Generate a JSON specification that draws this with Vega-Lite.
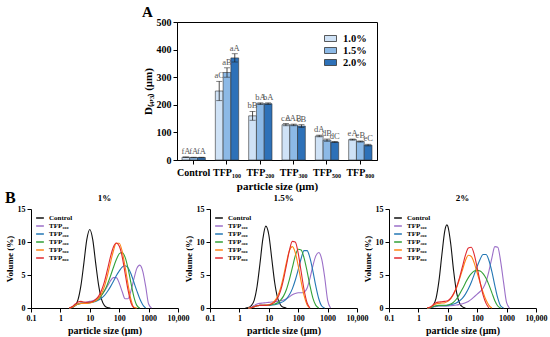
{
"$schema": "https://vega.github.io/schema/vega-lite/v6.json",
"background": "white",
"padding": {"left": 5, "right": 3, "top": 4, "bottom": 2},
"config": {
  "font": "Liberation Serif",
  "view": {"stroke": null},
  "axis": {"labelFont": "Liberation Serif", "titleFont": "Liberation Serif", "labelFontWeight": "bold", "titleFontWeight": "bold", "labelColor": "black", "titleColor": "black", "domainColor": "black", "tickColor": "black", "grid": false, "tickSize": 4, "labelPadding": 2, "titlePadding": 3},
  "title": {"font": "Liberation Serif", "fontWeight": "bold", "color": "black"},
  "legend": {"labelFont": "Liberation Serif", "labelFontWeight": "bold", "labelColor": "black"}
},
"datasets": {
"d": [
{"p":"1%","s":"Control","x":2,"y":0},{"p":"1%","s":"Control","x":2.5,"y":0.08},{"p":"1%","s":"Control","x":3.2,"y":0.37},{"p":"1%","s":"Control","x":4,"y":1.3},{"p":"1%","s":"Control","x":5,"y":3.42},{"p":"1%","s":"Control","x":6.3,"y":6.84},{"p":"1%","s":"Control","x":7.9,"y":10.36},{"p":"1%","s":"Control","x":10,"y":11.9},{"p":"1%","s":"Control","x":12.6,"y":10.36},{"p":"1%","s":"Control","x":15.8,"y":6.84},{"p":"1%","s":"Control","x":20,"y":3.42},{"p":"1%","s":"Control","x":25.1,"y":1.3},{"p":"1%","s":"Control","x":31.6,"y":0.37},{"p":"1%","s":"Control","x":39.8,"y":0.08},{"p":"1%","s":"Control","x":50.1,"y":0},
{"p":"1%","s":"TFP₁₀₀","x":2,"y":0},{"p":"1%","s":"TFP₁₀₀","x":2.5,"y":0.1},{"p":"1%","s":"TFP₁₀₀","x":3.2,"y":0.4},{"p":"1%","s":"TFP₁₀₀","x":4,"y":0.6},{"p":"1%","s":"TFP₁₀₀","x":5,"y":0.75},{"p":"1%","s":"TFP₁₀₀","x":6.3,"y":0.8},{"p":"1%","s":"TFP₁₀₀","x":7.9,"y":0.9},{"p":"1%","s":"TFP₁₀₀","x":10,"y":1.0},{"p":"1%","s":"TFP₁₀₀","x":12.6,"y":1.1},{"p":"1%","s":"TFP₁₀₀","x":15.8,"y":1.3},{"p":"1%","s":"TFP₁₀₀","x":20,"y":1.6},{"p":"1%","s":"TFP₁₀₀","x":25.1,"y":2.0},{"p":"1%","s":"TFP₁₀₀","x":31.6,"y":2.6},{"p":"1%","s":"TFP₁₀₀","x":39.8,"y":3.3},{"p":"1%","s":"TFP₁₀₀","x":50.1,"y":4.1},{"p":"1%","s":"TFP₁₀₀","x":63.1,"y":4.6},{"p":"1%","s":"TFP₁₀₀","x":79.4,"y":4.6},{"p":"1%","s":"TFP₁₀₀","x":100,"y":3.8},{"p":"1%","s":"TFP₁₀₀","x":126,"y":2.5},{"p":"1%","s":"TFP₁₀₀","x":158,"y":1.4},{"p":"1%","s":"TFP₁₀₀","x":200,"y":1.4},{"p":"1%","s":"TFP₁₀₀","x":251,"y":2.6},{"p":"1%","s":"TFP₁₀₀","x":316,"y":4.4},{"p":"1%","s":"TFP₁₀₀","x":398,"y":6.0},{"p":"1%","s":"TFP₁₀₀","x":501,"y":6.5},{"p":"1%","s":"TFP₁₀₀","x":631,"y":5.6},{"p":"1%","s":"TFP₁₀₀","x":794,"y":3.3},{"p":"1%","s":"TFP₁₀₀","x":1000,"y":0.6},{"p":"1%","s":"TFP₁₀₀","x":1259,"y":0},
{"p":"1%","s":"TFP₂₀₀","x":2,"y":0},{"p":"1%","s":"TFP₂₀₀","x":2.5,"y":0.1},{"p":"1%","s":"TFP₂₀₀","x":3.2,"y":0.4},{"p":"1%","s":"TFP₂₀₀","x":4,"y":0.6},{"p":"1%","s":"TFP₂₀₀","x":5,"y":0.7},{"p":"1%","s":"TFP₂₀₀","x":6.3,"y":0.7},{"p":"1%","s":"TFP₂₀₀","x":7.9,"y":0.75},{"p":"1%","s":"TFP₂₀₀","x":10,"y":0.8},{"p":"1%","s":"TFP₂₀₀","x":12.6,"y":0.9},{"p":"1%","s":"TFP₂₀₀","x":15.8,"y":1.0},{"p":"1%","s":"TFP₂₀₀","x":20,"y":1.2},{"p":"1%","s":"TFP₂₀₀","x":25.1,"y":1.5},{"p":"1%","s":"TFP₂₀₀","x":31.6,"y":1.9},{"p":"1%","s":"TFP₂₀₀","x":39.8,"y":2.5},{"p":"1%","s":"TFP₂₀₀","x":50.1,"y":3.2},{"p":"1%","s":"TFP₂₀₀","x":63.1,"y":4.0},{"p":"1%","s":"TFP₂₀₀","x":79.4,"y":4.9},{"p":"1%","s":"TFP₂₀₀","x":100,"y":5.6},{"p":"1%","s":"TFP₂₀₀","x":126,"y":6.2},{"p":"1%","s":"TFP₂₀₀","x":158,"y":6.4},{"p":"1%","s":"TFP₂₀₀","x":200,"y":6.1},{"p":"1%","s":"TFP₂₀₀","x":251,"y":5.2},{"p":"1%","s":"TFP₂₀₀","x":316,"y":3.9},{"p":"1%","s":"TFP₂₀₀","x":398,"y":2.6},{"p":"1%","s":"TFP₂₀₀","x":501,"y":1.4},{"p":"1%","s":"TFP₂₀₀","x":631,"y":0.5},{"p":"1%","s":"TFP₂₀₀","x":794,"y":0},
{"p":"1%","s":"TFP₃₀₀","x":2,"y":0},{"p":"1%","s":"TFP₃₀₀","x":2.5,"y":0.1},{"p":"1%","s":"TFP₃₀₀","x":3.2,"y":0.4},{"p":"1%","s":"TFP₃₀₀","x":4,"y":0.6},{"p":"1%","s":"TFP₃₀₀","x":5,"y":0.7},{"p":"1%","s":"TFP₃₀₀","x":6.3,"y":0.7},{"p":"1%","s":"TFP₃₀₀","x":7.9,"y":0.75},{"p":"1%","s":"TFP₃₀₀","x":10,"y":0.8},{"p":"1%","s":"TFP₃₀₀","x":12.6,"y":0.9},{"p":"1%","s":"TFP₃₀₀","x":15.8,"y":1.1},{"p":"1%","s":"TFP₃₀₀","x":20,"y":1.4},{"p":"1%","s":"TFP₃₀₀","x":25.1,"y":1.9},{"p":"1%","s":"TFP₃₀₀","x":31.6,"y":2.6},{"p":"1%","s":"TFP₃₀₀","x":39.8,"y":3.6},{"p":"1%","s":"TFP₃₀₀","x":50.1,"y":4.8},{"p":"1%","s":"TFP₃₀₀","x":63.1,"y":6.1},{"p":"1%","s":"TFP₃₀₀","x":79.4,"y":7.3},{"p":"1%","s":"TFP₃₀₀","x":100,"y":8.2},{"p":"1%","s":"TFP₃₀₀","x":126,"y":8.4},{"p":"1%","s":"TFP₃₀₀","x":158,"y":7.7},{"p":"1%","s":"TFP₃₀₀","x":200,"y":6.0},{"p":"1%","s":"TFP₃₀₀","x":251,"y":3.8},{"p":"1%","s":"TFP₃₀₀","x":316,"y":1.7},{"p":"1%","s":"TFP₃₀₀","x":398,"y":0.4},{"p":"1%","s":"TFP₃₀₀","x":501,"y":0},
{"p":"1%","s":"TFP₅₀₀","x":2,"y":0},{"p":"1%","s":"TFP₅₀₀","x":2.5,"y":0.1},{"p":"1%","s":"TFP₅₀₀","x":3.2,"y":0.4},{"p":"1%","s":"TFP₅₀₀","x":4,"y":0.6},{"p":"1%","s":"TFP₅₀₀","x":5,"y":0.7},{"p":"1%","s":"TFP₅₀₀","x":6.3,"y":0.7},{"p":"1%","s":"TFP₅₀₀","x":7.9,"y":0.7},{"p":"1%","s":"TFP₅₀₀","x":10,"y":0.75},{"p":"1%","s":"TFP₅₀₀","x":12.6,"y":0.9},{"p":"1%","s":"TFP₅₀₀","x":15.8,"y":1.1},{"p":"1%","s":"TFP₅₀₀","x":20,"y":1.5},{"p":"1%","s":"TFP₅₀₀","x":25.1,"y":2.2},{"p":"1%","s":"TFP₅₀₀","x":31.6,"y":3.3},{"p":"1%","s":"TFP₅₀₀","x":39.8,"y":4.9},{"p":"1%","s":"TFP₅₀₀","x":50.1,"y":6.8},{"p":"1%","s":"TFP₅₀₀","x":63.1,"y":8.6},{"p":"1%","s":"TFP₅₀₀","x":79.4,"y":9.8},{"p":"1%","s":"TFP₅₀₀","x":100,"y":9.8},{"p":"1%","s":"TFP₅₀₀","x":126,"y":8.6},{"p":"1%","s":"TFP₅₀₀","x":158,"y":6.3},{"p":"1%","s":"TFP₅₀₀","x":200,"y":3.6},{"p":"1%","s":"TFP₅₀₀","x":251,"y":1.3},{"p":"1%","s":"TFP₅₀₀","x":316,"y":0.1},{"p":"1%","s":"TFP₅₀₀","x":398,"y":0},
{"p":"1%","s":"TFP₈₀₀","x":2,"y":0},{"p":"1%","s":"TFP₈₀₀","x":2.5,"y":0.2},{"p":"1%","s":"TFP₈₀₀","x":3.2,"y":0.6},{"p":"1%","s":"TFP₈₀₀","x":4,"y":0.9},{"p":"1%","s":"TFP₈₀₀","x":5,"y":1.0},{"p":"1%","s":"TFP₈₀₀","x":6.3,"y":0.9},{"p":"1%","s":"TFP₈₀₀","x":7.9,"y":0.85},{"p":"1%","s":"TFP₈₀₀","x":10,"y":0.9},{"p":"1%","s":"TFP₈₀₀","x":12.6,"y":1.0},{"p":"1%","s":"TFP₈₀₀","x":15.8,"y":1.3},{"p":"1%","s":"TFP₈₀₀","x":20,"y":1.8},{"p":"1%","s":"TFP₈₀₀","x":25.1,"y":2.7},{"p":"1%","s":"TFP₈₀₀","x":31.6,"y":4.0},{"p":"1%","s":"TFP₈₀₀","x":39.8,"y":5.8},{"p":"1%","s":"TFP₈₀₀","x":50.1,"y":7.7},{"p":"1%","s":"TFP₈₀₀","x":63.1,"y":9.2},{"p":"1%","s":"TFP₈₀₀","x":79.4,"y":9.85},{"p":"1%","s":"TFP₈₀₀","x":100,"y":9.4},{"p":"1%","s":"TFP₈₀₀","x":126,"y":7.8},{"p":"1%","s":"TFP₈₀₀","x":158,"y":5.3},{"p":"1%","s":"TFP₈₀₀","x":200,"y":2.7},{"p":"1%","s":"TFP₈₀₀","x":251,"y":0.8},{"p":"1%","s":"TFP₈₀₀","x":316,"y":0},

{"p":"1.5%","s":"Control","x":1.6,"y":0},{"p":"1.5%","s":"Control","x":2,"y":0.07},{"p":"1.5%","s":"Control","x":2.5,"y":0.34},{"p":"1.5%","s":"Control","x":3.2,"y":1.2},{"p":"1.5%","s":"Control","x":4,"y":3.3},{"p":"1.5%","s":"Control","x":5,"y":6.7},{"p":"1.5%","s":"Control","x":6.3,"y":10.5},{"p":"1.5%","s":"Control","x":7.9,"y":12.4},{"p":"1.5%","s":"Control","x":10,"y":11.1},{"p":"1.5%","s":"Control","x":12.6,"y":7.5},{"p":"1.5%","s":"Control","x":15.8,"y":3.9},{"p":"1.5%","s":"Control","x":20,"y":1.5},{"p":"1.5%","s":"Control","x":25.1,"y":0.45},{"p":"1.5%","s":"Control","x":31.6,"y":0.1},{"p":"1.5%","s":"Control","x":39.8,"y":0},
{"p":"1.5%","s":"TFP₁₀₀","x":2,"y":0},{"p":"1.5%","s":"TFP₁₀₀","x":2.5,"y":0.1},{"p":"1.5%","s":"TFP₁₀₀","x":3.2,"y":0.4},{"p":"1.5%","s":"TFP₁₀₀","x":4,"y":0.6},{"p":"1.5%","s":"TFP₁₀₀","x":5,"y":0.7},{"p":"1.5%","s":"TFP₁₀₀","x":6.3,"y":0.75},{"p":"1.5%","s":"TFP₁₀₀","x":7.9,"y":0.8},{"p":"1.5%","s":"TFP₁₀₀","x":10,"y":0.85},{"p":"1.5%","s":"TFP₁₀₀","x":12.6,"y":0.9},{"p":"1.5%","s":"TFP₁₀₀","x":15.8,"y":0.95},{"p":"1.5%","s":"TFP₁₀₀","x":20,"y":1.0},{"p":"1.5%","s":"TFP₁₀₀","x":25.1,"y":1.1},{"p":"1.5%","s":"TFP₁₀₀","x":31.6,"y":1.2},{"p":"1.5%","s":"TFP₁₀₀","x":39.8,"y":1.4},{"p":"1.5%","s":"TFP₁₀₀","x":50.1,"y":1.7},{"p":"1.5%","s":"TFP₁₀₀","x":63.1,"y":2.0},{"p":"1.5%","s":"TFP₁₀₀","x":79.4,"y":2.2},{"p":"1.5%","s":"TFP₁₀₀","x":100,"y":2.3},{"p":"1.5%","s":"TFP₁₀₀","x":126,"y":2.3},{"p":"1.5%","s":"TFP₁₀₀","x":158,"y":2.4},{"p":"1.5%","s":"TFP₁₀₀","x":200,"y":3.0},{"p":"1.5%","s":"TFP₁₀₀","x":251,"y":4.5},{"p":"1.5%","s":"TFP₁₀₀","x":316,"y":6.4},{"p":"1.5%","s":"TFP₁₀₀","x":398,"y":7.9},{"p":"1.5%","s":"TFP₁₀₀","x":501,"y":8.4},{"p":"1.5%","s":"TFP₁₀₀","x":631,"y":7.4},{"p":"1.5%","s":"TFP₁₀₀","x":794,"y":4.7},{"p":"1.5%","s":"TFP₁₀₀","x":1000,"y":1.2},{"p":"1.5%","s":"TFP₁₀₀","x":1259,"y":0},
{"p":"1.5%","s":"TFP₂₀₀","x":2,"y":0},{"p":"1.5%","s":"TFP₂₀₀","x":2.5,"y":0.05},{"p":"1.5%","s":"TFP₂₀₀","x":3.2,"y":0.2},{"p":"1.5%","s":"TFP₂₀₀","x":4,"y":0.35},{"p":"1.5%","s":"TFP₂₀₀","x":5,"y":0.4},{"p":"1.5%","s":"TFP₂₀₀","x":6.3,"y":0.4},{"p":"1.5%","s":"TFP₂₀₀","x":7.9,"y":0.4},{"p":"1.5%","s":"TFP₂₀₀","x":10,"y":0.4},{"p":"1.5%","s":"TFP₂₀₀","x":12.6,"y":0.45},{"p":"1.5%","s":"TFP₂₀₀","x":15.8,"y":0.5},{"p":"1.5%","s":"TFP₂₀₀","x":20,"y":0.6},{"p":"1.5%","s":"TFP₂₀₀","x":25.1,"y":0.8},{"p":"1.5%","s":"TFP₂₀₀","x":31.6,"y":1.0},{"p":"1.5%","s":"TFP₂₀₀","x":39.8,"y":1.4},{"p":"1.5%","s":"TFP₂₀₀","x":50.1,"y":2.0},{"p":"1.5%","s":"TFP₂₀₀","x":63.1,"y":2.9},{"p":"1.5%","s":"TFP₂₀₀","x":79.4,"y":4.2},{"p":"1.5%","s":"TFP₂₀₀","x":100,"y":5.8},{"p":"1.5%","s":"TFP₂₀₀","x":126,"y":7.5},{"p":"1.5%","s":"TFP₂₀₀","x":158,"y":8.7},{"p":"1.5%","s":"TFP₂₀₀","x":200,"y":8.7},{"p":"1.5%","s":"TFP₂₀₀","x":251,"y":7.6},{"p":"1.5%","s":"TFP₂₀₀","x":316,"y":5.6},{"p":"1.5%","s":"TFP₂₀₀","x":398,"y":3.3},{"p":"1.5%","s":"TFP₂₀₀","x":501,"y":1.4},{"p":"1.5%","s":"TFP₂₀₀","x":631,"y":0.3},{"p":"1.5%","s":"TFP₂₀₀","x":794,"y":0},
{"p":"1.5%","s":"TFP₃₀₀","x":2,"y":0},{"p":"1.5%","s":"TFP₃₀₀","x":2.5,"y":0.05},{"p":"1.5%","s":"TFP₃₀₀","x":3.2,"y":0.2},{"p":"1.5%","s":"TFP₃₀₀","x":4,"y":0.35},{"p":"1.5%","s":"TFP₃₀₀","x":5,"y":0.4},{"p":"1.5%","s":"TFP₃₀₀","x":6.3,"y":0.4},{"p":"1.5%","s":"TFP₃₀₀","x":7.9,"y":0.4},{"p":"1.5%","s":"TFP₃₀₀","x":10,"y":0.45},{"p":"1.5%","s":"TFP₃₀₀","x":12.6,"y":0.5},{"p":"1.5%","s":"TFP₃₀₀","x":15.8,"y":0.6},{"p":"1.5%","s":"TFP₃₀₀","x":20,"y":0.8},{"p":"1.5%","s":"TFP₃₀₀","x":25.1,"y":1.2},{"p":"1.5%","s":"TFP₃₀₀","x":31.6,"y":1.8},{"p":"1.5%","s":"TFP₃₀₀","x":39.8,"y":2.8},{"p":"1.5%","s":"TFP₃₀₀","x":50.1,"y":4.3},{"p":"1.5%","s":"TFP₃₀₀","x":63.1,"y":6.1},{"p":"1.5%","s":"TFP₃₀₀","x":79.4,"y":7.9},{"p":"1.5%","s":"TFP₃₀₀","x":100,"y":8.9},{"p":"1.5%","s":"TFP₃₀₀","x":126,"y":8.8},{"p":"1.5%","s":"TFP₃₀₀","x":158,"y":7.6},{"p":"1.5%","s":"TFP₃₀₀","x":200,"y":5.6},{"p":"1.5%","s":"TFP₃₀₀","x":251,"y":3.4},{"p":"1.5%","s":"TFP₃₀₀","x":316,"y":1.5},{"p":"1.5%","s":"TFP₃₀₀","x":398,"y":0.4},{"p":"1.5%","s":"TFP₃₀₀","x":501,"y":0},
{"p":"1.5%","s":"TFP₅₀₀","x":2,"y":0},{"p":"1.5%","s":"TFP₅₀₀","x":2.5,"y":0.05},{"p":"1.5%","s":"TFP₅₀₀","x":3.2,"y":0.2},{"p":"1.5%","s":"TFP₅₀₀","x":4,"y":0.35},{"p":"1.5%","s":"TFP₅₀₀","x":5,"y":0.4},{"p":"1.5%","s":"TFP₅₀₀","x":6.3,"y":0.4},{"p":"1.5%","s":"TFP₅₀₀","x":7.9,"y":0.45},{"p":"1.5%","s":"TFP₅₀₀","x":10,"y":0.5},{"p":"1.5%","s":"TFP₅₀₀","x":12.6,"y":0.7},{"p":"1.5%","s":"TFP₅₀₀","x":15.8,"y":1.1},{"p":"1.5%","s":"TFP₅₀₀","x":20,"y":1.8},{"p":"1.5%","s":"TFP₅₀₀","x":25.1,"y":3.0},{"p":"1.5%","s":"TFP₅₀₀","x":31.6,"y":4.8},{"p":"1.5%","s":"TFP₅₀₀","x":39.8,"y":6.9},{"p":"1.5%","s":"TFP₅₀₀","x":50.1,"y":8.7},{"p":"1.5%","s":"TFP₅₀₀","x":63.1,"y":9.3},{"p":"1.5%","s":"TFP₅₀₀","x":79.4,"y":8.4},{"p":"1.5%","s":"TFP₅₀₀","x":100,"y":6.4},{"p":"1.5%","s":"TFP₅₀₀","x":126,"y":4.0},{"p":"1.5%","s":"TFP₅₀₀","x":158,"y":1.9},{"p":"1.5%","s":"TFP₅₀₀","x":200,"y":0.5},{"p":"1.5%","s":"TFP₅₀₀","x":251,"y":0},
{"p":"1.5%","s":"TFP₈₀₀","x":2,"y":0},{"p":"1.5%","s":"TFP₈₀₀","x":2.5,"y":0.05},{"p":"1.5%","s":"TFP₈₀₀","x":3.2,"y":0.2},{"p":"1.5%","s":"TFP₈₀₀","x":4,"y":0.35},{"p":"1.5%","s":"TFP₈₀₀","x":5,"y":0.4},{"p":"1.5%","s":"TFP₈₀₀","x":6.3,"y":0.4},{"p":"1.5%","s":"TFP₈₀₀","x":7.9,"y":0.4},{"p":"1.5%","s":"TFP₈₀₀","x":10,"y":0.45},{"p":"1.5%","s":"TFP₈₀₀","x":12.6,"y":0.6},{"p":"1.5%","s":"TFP₈₀₀","x":15.8,"y":0.9},{"p":"1.5%","s":"TFP₈₀₀","x":20,"y":1.5},{"p":"1.5%","s":"TFP₈₀₀","x":25.1,"y":2.6},{"p":"1.5%","s":"TFP₈₀₀","x":31.6,"y":4.3},{"p":"1.5%","s":"TFP₈₀₀","x":39.8,"y":6.5},{"p":"1.5%","s":"TFP₈₀₀","x":50.1,"y":8.7},{"p":"1.5%","s":"TFP₈₀₀","x":63.1,"y":10.1},{"p":"1.5%","s":"TFP₈₀₀","x":79.4,"y":10.0},{"p":"1.5%","s":"TFP₈₀₀","x":100,"y":8.3},{"p":"1.5%","s":"TFP₈₀₀","x":126,"y":5.5},{"p":"1.5%","s":"TFP₈₀₀","x":158,"y":2.8},{"p":"1.5%","s":"TFP₈₀₀","x":200,"y":0.8},{"p":"1.5%","s":"TFP₈₀₀","x":251,"y":0},

{"p":"2%","s":"Control","x":2,"y":0},{"p":"2%","s":"Control","x":2.5,"y":0.08},{"p":"2%","s":"Control","x":3.2,"y":0.42},{"p":"2%","s":"Control","x":4,"y":1.5},{"p":"2%","s":"Control","x":5,"y":4.1},{"p":"2%","s":"Control","x":6.3,"y":8.1},{"p":"2%","s":"Control","x":7.9,"y":11.7},{"p":"2%","s":"Control","x":9.3,"y":12.6},{"p":"2%","s":"Control","x":10,"y":12.4},{"p":"2%","s":"Control","x":12.6,"y":9.7},{"p":"2%","s":"Control","x":15.8,"y":5.6},{"p":"2%","s":"Control","x":20,"y":2.3},{"p":"2%","s":"Control","x":25.1,"y":0.73},{"p":"2%","s":"Control","x":31.6,"y":0.17},{"p":"2%","s":"Control","x":39.8,"y":0},
{"p":"2%","s":"TFP₁₀₀","x":2,"y":0},{"p":"2%","s":"TFP₁₀₀","x":2.5,"y":0.05},{"p":"2%","s":"TFP₁₀₀","x":3.2,"y":0.15},{"p":"2%","s":"TFP₁₀₀","x":4,"y":0.25},{"p":"2%","s":"TFP₁₀₀","x":5,"y":0.3},{"p":"2%","s":"TFP₁₀₀","x":6.3,"y":0.3},{"p":"2%","s":"TFP₁₀₀","x":7.9,"y":0.3},{"p":"2%","s":"TFP₁₀₀","x":10,"y":0.3},{"p":"2%","s":"TFP₁₀₀","x":12.6,"y":0.35},{"p":"2%","s":"TFP₁₀₀","x":15.8,"y":0.4},{"p":"2%","s":"TFP₁₀₀","x":20,"y":0.45},{"p":"2%","s":"TFP₁₀₀","x":25.1,"y":0.55},{"p":"2%","s":"TFP₁₀₀","x":31.6,"y":0.65},{"p":"2%","s":"TFP₁₀₀","x":39.8,"y":0.8},{"p":"2%","s":"TFP₁₀₀","x":50.1,"y":1.0},{"p":"2%","s":"TFP₁₀₀","x":63.1,"y":1.3},{"p":"2%","s":"TFP₁₀₀","x":79.4,"y":1.7},{"p":"2%","s":"TFP₁₀₀","x":100,"y":2.1},{"p":"2%","s":"TFP₁₀₀","x":126,"y":2.5},{"p":"2%","s":"TFP₁₀₀","x":158,"y":3.0},{"p":"2%","s":"TFP₁₀₀","x":200,"y":4.0},{"p":"2%","s":"TFP₁₀₀","x":251,"y":5.6},{"p":"2%","s":"TFP₁₀₀","x":316,"y":7.6},{"p":"2%","s":"TFP₁₀₀","x":398,"y":9.3},{"p":"2%","s":"TFP₁₀₀","x":501,"y":9.2},{"p":"2%","s":"TFP₁₀₀","x":631,"y":7.0},{"p":"2%","s":"TFP₁₀₀","x":794,"y":3.8},{"p":"2%","s":"TFP₁₀₀","x":1000,"y":0.8},{"p":"2%","s":"TFP₁₀₀","x":1259,"y":0},
{"p":"2%","s":"TFP₂₀₀","x":2,"y":0},{"p":"2%","s":"TFP₂₀₀","x":2.5,"y":0.05},{"p":"2%","s":"TFP₂₀₀","x":3.2,"y":0.2},{"p":"2%","s":"TFP₂₀₀","x":4,"y":0.3},{"p":"2%","s":"TFP₂₀₀","x":5,"y":0.35},{"p":"2%","s":"TFP₂₀₀","x":6.3,"y":0.35},{"p":"2%","s":"TFP₂₀₀","x":7.9,"y":0.35},{"p":"2%","s":"TFP₂₀₀","x":10,"y":0.4},{"p":"2%","s":"TFP₂₀₀","x":12.6,"y":0.5},{"p":"2%","s":"TFP₂₀₀","x":15.8,"y":0.6},{"p":"2%","s":"TFP₂₀₀","x":20,"y":0.8},{"p":"2%","s":"TFP₂₀₀","x":25.1,"y":1.1},{"p":"2%","s":"TFP₂₀₀","x":31.6,"y":1.5},{"p":"2%","s":"TFP₂₀₀","x":39.8,"y":2.1},{"p":"2%","s":"TFP₂₀₀","x":50.1,"y":2.9},{"p":"2%","s":"TFP₂₀₀","x":63.1,"y":3.9},{"p":"2%","s":"TFP₂₀₀","x":79.4,"y":5.1},{"p":"2%","s":"TFP₂₀₀","x":100,"y":6.3},{"p":"2%","s":"TFP₂₀₀","x":126,"y":7.4},{"p":"2%","s":"TFP₂₀₀","x":158,"y":8.1},{"p":"2%","s":"TFP₂₀₀","x":200,"y":8.1},{"p":"2%","s":"TFP₂₀₀","x":251,"y":7.2},{"p":"2%","s":"TFP₂₀₀","x":316,"y":5.5},{"p":"2%","s":"TFP₂₀₀","x":398,"y":3.4},{"p":"2%","s":"TFP₂₀₀","x":501,"y":1.5},{"p":"2%","s":"TFP₂₀₀","x":631,"y":0.3},{"p":"2%","s":"TFP₂₀₀","x":794,"y":0},
{"p":"2%","s":"TFP₃₀₀","x":2,"y":0},{"p":"2%","s":"TFP₃₀₀","x":2.5,"y":0.05},{"p":"2%","s":"TFP₃₀₀","x":3.2,"y":0.2},{"p":"2%","s":"TFP₃₀₀","x":4,"y":0.35},{"p":"2%","s":"TFP₃₀₀","x":5,"y":0.4},{"p":"2%","s":"TFP₃₀₀","x":6.3,"y":0.4},{"p":"2%","s":"TFP₃₀₀","x":7.9,"y":0.4},{"p":"2%","s":"TFP₃₀₀","x":10,"y":0.45},{"p":"2%","s":"TFP₃₀₀","x":12.6,"y":0.6},{"p":"2%","s":"TFP₃₀₀","x":15.8,"y":0.9},{"p":"2%","s":"TFP₃₀₀","x":20,"y":1.4},{"p":"2%","s":"TFP₃₀₀","x":25.1,"y":2.1},{"p":"2%","s":"TFP₃₀₀","x":31.6,"y":2.9},{"p":"2%","s":"TFP₃₀₀","x":39.8,"y":3.8},{"p":"2%","s":"TFP₃₀₀","x":50.1,"y":4.6},{"p":"2%","s":"TFP₃₀₀","x":63.1,"y":5.2},{"p":"2%","s":"TFP₃₀₀","x":79.4,"y":5.6},{"p":"2%","s":"TFP₃₀₀","x":100,"y":5.7},{"p":"2%","s":"TFP₃₀₀","x":126,"y":5.6},{"p":"2%","s":"TFP₃₀₀","x":158,"y":5.2},{"p":"2%","s":"TFP₃₀₀","x":200,"y":4.5},{"p":"2%","s":"TFP₃₀₀","x":251,"y":3.5},{"p":"2%","s":"TFP₃₀₀","x":316,"y":2.3},{"p":"2%","s":"TFP₃₀₀","x":398,"y":1.1},{"p":"2%","s":"TFP₃₀₀","x":501,"y":0.3},{"p":"2%","s":"TFP₃₀₀","x":631,"y":0},
{"p":"2%","s":"TFP₅₀₀","x":2,"y":0},{"p":"2%","s":"TFP₅₀₀","x":2.5,"y":0.1},{"p":"2%","s":"TFP₅₀₀","x":3.2,"y":0.4},{"p":"2%","s":"TFP₅₀₀","x":4,"y":0.6},{"p":"2%","s":"TFP₅₀₀","x":5,"y":0.7},{"p":"2%","s":"TFP₅₀₀","x":6.3,"y":0.75},{"p":"2%","s":"TFP₅₀₀","x":7.9,"y":0.8},{"p":"2%","s":"TFP₅₀₀","x":10,"y":1.0},{"p":"2%","s":"TFP₅₀₀","x":12.6,"y":1.4},{"p":"2%","s":"TFP₅₀₀","x":15.8,"y":2.1},{"p":"2%","s":"TFP₅₀₀","x":20,"y":3.1},{"p":"2%","s":"TFP₅₀₀","x":25.1,"y":4.4},{"p":"2%","s":"TFP₅₀₀","x":31.6,"y":5.8},{"p":"2%","s":"TFP₅₀₀","x":39.8,"y":7.2},{"p":"2%","s":"TFP₅₀₀","x":50.1,"y":8.0},{"p":"2%","s":"TFP₅₀₀","x":63.1,"y":7.8},{"p":"2%","s":"TFP₅₀₀","x":79.4,"y":6.8},{"p":"2%","s":"TFP₅₀₀","x":100,"y":5.3},{"p":"2%","s":"TFP₅₀₀","x":126,"y":3.8},{"p":"2%","s":"TFP₅₀₀","x":158,"y":2.4},{"p":"2%","s":"TFP₅₀₀","x":200,"y":1.2},{"p":"2%","s":"TFP₅₀₀","x":251,"y":0.4},{"p":"2%","s":"TFP₅₀₀","x":316,"y":0},
{"p":"2%","s":"TFP₈₀₀","x":2,"y":0},{"p":"2%","s":"TFP₈₀₀","x":2.5,"y":0.1},{"p":"2%","s":"TFP₈₀₀","x":3.2,"y":0.5},{"p":"2%","s":"TFP₈₀₀","x":4,"y":0.8},{"p":"2%","s":"TFP₈₀₀","x":5,"y":0.9},{"p":"2%","s":"TFP₈₀₀","x":6.3,"y":0.95},{"p":"2%","s":"TFP₈₀₀","x":7.9,"y":1.0},{"p":"2%","s":"TFP₈₀₀","x":10,"y":1.1},{"p":"2%","s":"TFP₈₀₀","x":12.6,"y":1.5},{"p":"2%","s":"TFP₈₀₀","x":15.8,"y":2.2},{"p":"2%","s":"TFP₈₀₀","x":20,"y":3.2},{"p":"2%","s":"TFP₈₀₀","x":25.1,"y":4.6},{"p":"2%","s":"TFP₈₀₀","x":31.6,"y":6.3},{"p":"2%","s":"TFP₈₀₀","x":39.8,"y":8.0},{"p":"2%","s":"TFP₈₀₀","x":50.1,"y":9.1},{"p":"2%","s":"TFP₈₀₀","x":63.1,"y":9.2},{"p":"2%","s":"TFP₈₀₀","x":79.4,"y":8.1},{"p":"2%","s":"TFP₈₀₀","x":100,"y":6.1},{"p":"2%","s":"TFP₈₀₀","x":126,"y":3.9},{"p":"2%","s":"TFP₈₀₀","x":158,"y":2.0},{"p":"2%","s":"TFP₈₀₀","x":200,"y":0.7},{"p":"2%","s":"TFP₈₀₀","x":251,"y":0}
],
"bars": [
{"g":"Control","c":"1.0%","m":10,"sd":1,"lab":"fA"},{"g":"Control","c":"1.5%","m":9,"sd":1,"lab":"fA"},{"g":"Control","c":"2.0%","m":9,"sd":1,"lab":"fA"},
{"g":"TFP₁₀₀","c":"1.0%","m":250,"sd":35,"lab":"aC"},{"g":"TFP₁₀₀","c":"1.5%","m":317,"sd":17,"lab":"aB"},{"g":"TFP₁₀₀","c":"2.0%","m":370,"sd":15,"lab":"aA"},
{"g":"TFP₂₀₀","c":"1.0%","m":160,"sd":16,"lab":"bB"},{"g":"TFP₂₀₀","c":"1.5%","m":204,"sd":3,"lab":"bA"},{"g":"TFP₂₀₀","c":"2.0%","m":204,"sd":3,"lab":"bA"},
{"g":"TFP₃₀₀","c":"1.0%","m":128,"sd":4,"lab":"cA"},{"g":"TFP₃₀₀","c":"1.5%","m":127,"sd":3,"lab":"cAB"},{"g":"TFP₃₀₀","c":"2.0%","m":123,"sd":5,"lab":"cB"},
{"g":"TFP₅₀₀","c":"1.0%","m":87,"sd":3,"lab":"dA"},{"g":"TFP₅₀₀","c":"1.5%","m":72,"sd":4,"lab":"dB"},{"g":"TFP₅₀₀","c":"2.0%","m":65,"sd":2,"lab":"dC"},
{"g":"TFP₈₀₀","c":"1.0%","m":74,"sd":2,"lab":"eA"},{"g":"TFP₈₀₀","c":"1.5%","m":67,"sd":2,"lab":"eB"},{"g":"TFP₈₀₀","c":"2.0%","m":54,"sd":3,"lab":"eC"}
]
},
"vconcat": [
  {
    "hconcat": [
      {"width": 110, "height": 10, "data": {"values": []}, "mark": "point"},
      {
        "width": 200, "height": 138,
        "title": {"text": "A", "anchor": "start", "frame": "bounds", "fontSize": 15, "offset": -3},
        "view": {"stroke": "black", "strokeWidth": 1},
        "data": {"name": "bars"},
        "transform": [{"calculate": "datum.m - datum.sd", "as": "lo"}, {"calculate": "datum.m + datum.sd", "as": "hi"}],
        "encoding": {
          "x": {"field": "g", "type": "nominal", "sort": ["Control","TFP₁₀₀","TFP₂₀₀","TFP₃₀₀","TFP₅₀₀","TFP₈₀₀"], "scale": {"paddingInner": 0.3, "paddingOuter": 0.15},
                "axis": {"title": "particle size (μm)", "labelAngle": 0, "labelFontSize": 10, "titleFontSize": 11, "labelPadding": 3}},
          "xOffset": {"field": "c", "type": "nominal", "scale": {"domain": ["1.0%","1.5%","2.0%"]}}
        },
        "layer": [
          {"mark": {"type": "bar", "stroke": "#333", "strokeWidth": 0.6},
           "encoding": {
             "y": {"field": "m", "type": "quantitative", "scale": {"domain": [0, 500]}, "axis": {"values": [0,100,200,300,400,500], "title": "D₍₄,₃₎ (μm)", "labelFontSize": 10, "titleFontSize": 11}},
             "fill": {"field": "c", "type": "nominal", "scale": {"domain": ["1.0%","1.5%","2.0%"], "range": ["#cfe2f6", "#8cb9e6", "#2e71b8"]},
                      "legend": {"orient": "top-right", "title": null, "offset": 10, "labelFontSize": 10.5, "symbolType": "M-1,-0.5H1V0.5H-1Z", "symbolSize": 144, "symbolStrokeColor": "#333", "symbolStrokeWidth": 0.8, "rowPadding": -1, "labelOffset": 6}}
           }},
          {"mark": {"type": "rule", "color": "#222", "strokeWidth": 0.8},
           "encoding": {"y": {"field": "lo", "type": "quantitative", "axis": {"values": [0,100,200,300,400,500], "title": "D₍₄,₃₎ (μm)", "labelFontSize": 10, "titleFontSize": 11}}, "y2": {"field": "hi"}}},
          {"mark": {"type": "tick", "color": "#222", "size": 6, "thickness": 0.8},
           "encoding": {"y": {"field": "hi", "type": "quantitative", "axis": {"values": [0,100,200,300,400,500], "title": "D₍₄,₃₎ (μm)", "labelFontSize": 10, "titleFontSize": 11}}}},
          {"mark": {"type": "tick", "color": "#222", "size": 6, "thickness": 0.8},
           "encoding": {"y": {"field": "lo", "type": "quantitative", "axis": {"values": [0,100,200,300,400,500], "title": "D₍₄,₃₎ (μm)", "labelFontSize": 10, "titleFontSize": 11}}}},
          {"mark": {"type": "text", "dy": -6, "fontSize": 8.5, "font": "Liberation Serif", "color": "#555"},
           "encoding": {"y": {"field": "hi", "type": "quantitative", "axis": {"values": [0,100,200,300,400,500], "title": "D₍₄,₃₎ (μm)", "labelFontSize": 10, "titleFontSize": 11}}, "text": {"field": "lab"}}}
        ]
      }
    ],
    "spacing": 0,
    "resolve": {"scale": {"fill": "independent"}, "legend": {"fill": "independent"}}
  },
  {
    "title": {"text": "B", "anchor": "start", "frame": "bounds", "fontSize": 16, "offset": -12},
    "bounds": "flush",
    "spacing": 32,
    "resolve": {"scale": {"color": "independent"}, "legend": {"color": "independent"}},
    "hconcat": [
      {
        "width": 147, "height": 99,
        "title": {"text": "1%", "fontSize": 9, "offset": 2},
        "data": {"name": "d"},
        "transform": [{"filter": "datum.p == '1%'"}],
        "mark": {"type": "line", "interpolate": "monotone", "strokeWidth": 1.1},
        "encoding": {
          "x": {"field": "x", "type": "quantitative", "scale": {"type": "log", "domain": [0.1, 10000]}, "axis": {"values": [0.1,1,10,100,1000,10000], "labelFlush": false, "labelOverlap": false, "labelExpr": "datum.value >= 10000 ? '10,000' : format(datum.value, '~g')", "title": "particle size (μm)", "labelFontSize": 8, "titleFontSize": 10}},
          "y": {"field": "y", "type": "quantitative", "scale": {"domain": [0, 15]}, "axis": {"values": [0,5,10,15], "title": "Volume (%)", "labelFontSize": 8, "titleFontSize": 9}},
          "color": {"field": "s", "type": "nominal", "scale": {"domain": ["Control","TFP₁₀₀","TFP₂₀₀","TFP₃₀₀","TFP₅₀₀","TFP₈₀₀"], "range": ["#111111","#9b6fc8","#2377b4","#32a137","#ff8516","#e0282e"]},
                    "legend": {"orient": "top-left", "title": null, "offset": 4, "symbolType": "stroke", "symbolSize": 60, "symbolStrokeWidth": 1.5, "labelFontSize": 7, "rowPadding": 0}}
        }
      },
      {
        "width": 147, "height": 99,
        "title": {"text": "1.5%", "fontSize": 9, "offset": 2},
        "data": {"name": "d"},
        "transform": [{"filter": "datum.p == '1.5%'"}],
        "mark": {"type": "line", "interpolate": "monotone", "strokeWidth": 1.1},
        "encoding": {
          "x": {"field": "x", "type": "quantitative", "scale": {"type": "log", "domain": [0.1, 10000]}, "axis": {"values": [0.1,1,10,100,1000,10000], "labelFlush": false, "labelOverlap": false, "labelExpr": "datum.value >= 10000 ? '10,000' : format(datum.value, '~g')", "title": "particle size (μm)", "labelFontSize": 8, "titleFontSize": 10}},
          "y": {"field": "y", "type": "quantitative", "scale": {"domain": [0, 15]}, "axis": {"values": [0,5,10,15], "title": "Volume (%)", "labelFontSize": 8, "titleFontSize": 9}},
          "color": {"field": "s", "type": "nominal", "scale": {"domain": ["Control","TFP₁₀₀","TFP₂₀₀","TFP₃₀₀","TFP₅₀₀","TFP₈₀₀"], "range": ["#111111","#9b6fc8","#2377b4","#32a137","#ff8516","#e0282e"]},
                    "legend": {"orient": "top-left", "title": null, "offset": 4, "symbolType": "stroke", "symbolSize": 60, "symbolStrokeWidth": 1.5, "labelFontSize": 7, "rowPadding": 0}}
        }
      },
      {
        "width": 147, "height": 99,
        "title": {"text": "2%", "fontSize": 9, "offset": 2},
        "data": {"name": "d"},
        "transform": [{"filter": "datum.p == '2%'"}],
        "mark": {"type": "line", "interpolate": "monotone", "strokeWidth": 1.1},
        "encoding": {
          "x": {"field": "x", "type": "quantitative", "scale": {"type": "log", "domain": [0.1, 10000]}, "axis": {"values": [0.1,1,10,100,1000,10000], "labelFlush": false, "labelOverlap": false, "labelExpr": "datum.value >= 10000 ? '10,000' : format(datum.value, '~g')", "title": "particle size (μm)", "labelFontSize": 8, "titleFontSize": 10}},
          "y": {"field": "y", "type": "quantitative", "scale": {"domain": [0, 15]}, "axis": {"values": [0,5,10,15], "title": "Volume (%)", "labelFontSize": 8, "titleFontSize": 9}},
          "color": {"field": "s", "type": "nominal", "scale": {"domain": ["Control","TFP₁₀₀","TFP₂₀₀","TFP₃₀₀","TFP₅₀₀","TFP₈₀₀"], "range": ["#111111","#9b6fc8","#2377b4","#32a137","#ff8516","#e0282e"]},
                    "legend": {"orient": "top-left", "title": null, "offset": 4, "symbolType": "stroke", "symbolSize": 60, "symbolStrokeWidth": 1.5, "labelFontSize": 7, "rowPadding": 0}}
        }
      }
    ]
  }
],
"spacing": -2,
"resolve": {"scale": {"color": "independent", "fill": "independent"}, "legend": {"color": "independent", "fill": "independent"}}
}
